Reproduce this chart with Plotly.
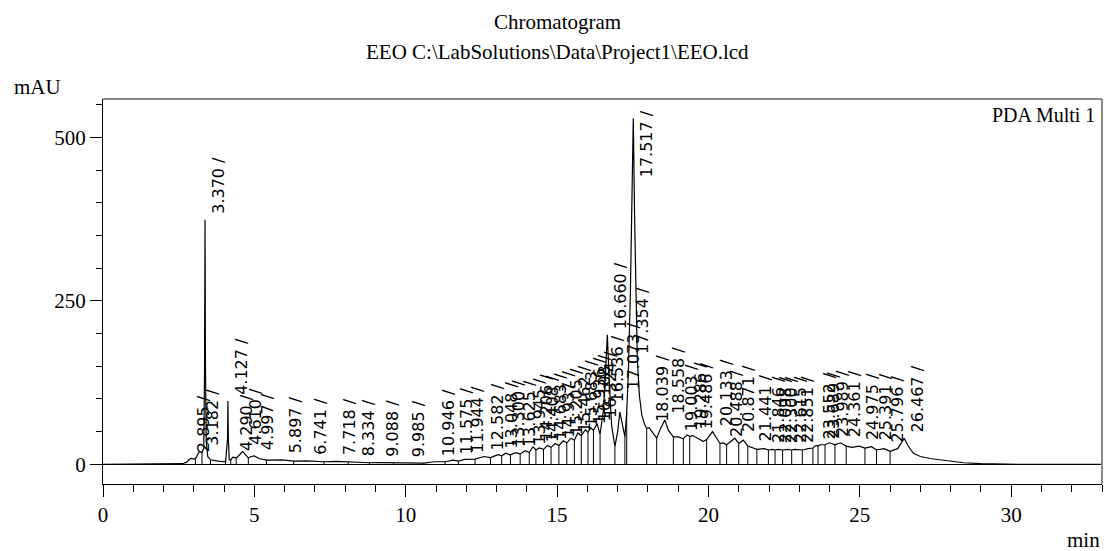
import plotly.graph_objects as go

# ---------------- data ----------------
time_min = [
    0.0, 2.50, 2.62, 2.75, 2.895, 3.05, 3.182, 3.27, 3.33, 3.355, 3.370, 3.385, 3.41, 3.46, 3.55,
    3.80, 4.05, 4.115, 4.127, 4.14, 4.17, 4.22, 4.29, 4.40, 4.50, 4.61, 4.72, 4.80, 4.90, 4.997,
    5.15, 5.40, 5.897, 6.30, 6.741, 7.30, 7.718, 8.10, 8.334, 8.80, 9.088, 9.60, 9.985, 10.60,
    10.946, 11.30, 11.575, 11.74, 11.944, 12.29, 12.582, 12.80, 13.048, 13.17, 13.300, 13.46,
    13.625, 13.78, 13.945, 14.08, 14.206, 14.30, 14.408, 14.55, 14.683, 14.80, 14.937, 15.06,
    15.205, 15.32, 15.462, 15.57, 15.683, 15.80, 15.936, 16.02, 16.108, 16.20, 16.324, 16.42,
    16.536, 16.60, 16.660, 16.72, 16.80, 16.91, 17.00, 17.073, 17.17, 17.24, 17.30, 17.354,
    17.42, 17.48, 17.517, 17.56, 17.60, 17.65, 17.72, 17.80, 17.90, 17.96, 18.039, 18.15, 18.29,
    18.42, 18.558, 18.68, 18.84, 19.003, 19.17, 19.286, 19.38, 19.486, 19.65, 19.83, 19.94,
    20.133, 20.38, 20.488, 20.60, 20.871, 21.00, 21.15, 21.30, 21.441, 21.60, 21.846, 21.98,
    22.098, 22.20, 22.300, 22.45, 22.615, 22.75, 22.851, 23.10, 23.30, 23.45, 23.552, 23.62,
    23.689, 23.85, 23.989, 24.18, 24.361, 24.55, 24.75, 24.975, 25.17, 25.391, 25.55, 25.796,
    26.00, 26.25, 26.467, 26.60, 26.77, 27.00, 27.32, 27.87, 28.42, 29.00, 29.50, 30.50, 33.0,
]
signal_mau = [
    0, 0, 1, 3, 9, 8, 20, 18, 25, 150, 374, 150, 35, 12, 7,
    5, 4, 40, 97, 40, 7, 7, 11, 10, 14, 20, 14, 10, 12, 13,
    9, 6.5, 7, 5, 5.5, 4, 4.5, 3.5, 3.8, 2.5, 2.7, 1.8, 2.2, 1.8,
    4, 4, 6.5, 5, 7.5, 8, 12, 10.5, 15, 13, 17, 14.5,
    18, 16, 21, 18, 27, 22, 25, 23, 29, 26, 32, 29,
    36, 33, 40, 37, 48, 44, 53, 49, 56, 52, 62, 46,
    85, 140, 198, 130, 60, 27, 50, 80, 60, 42, 80, 140,
    260, 450, 529, 380, 250, 160, 105, 75, 60, 55, 56, 48, 40,
    55, 68, 52, 42, 42, 39, 45, 43, 44, 40, 35, 38,
    50, 32, 33, 30, 40, 32, 37, 28, 26, 23, 24, 22,
    23, 22, 23, 22, 23, 22, 23, 22, 24, 25, 29, 28,
    30, 30, 33, 30, 33, 28, 26, 28, 25, 27, 22, 24,
    20, 24, 40, 28, 17, 12, 9, 5.5, 2.5, 1.0, 0.5, 0, 0,
]

peak_labels = [
    "2.895", "3.182", "3.370", "4.127", "4.290", "4.610", "4.997", "5.897", "6.741", "7.718",
    "8.334", "9.088", "9.985", "10.946", "11.575", "11.944", "12.582", "13.048", "13.300",
    "13.625", "13.945", "14.206", "14.408", "14.683", "14.937", "15.205", "15.462", "15.683",
    "15.936", "16.108", "16.324", "16.536", "16.660", "17.073", "17.354", "17.517", "18.039",
    "18.558", "19.003", "19.286", "19.486", "20.133", "20.488", "20.871", "21.441", "21.846",
    "22.098", "22.300", "22.615", "22.851", "23.552", "23.689", "23.989", "24.361", "24.975",
    "25.391", "25.796", "26.467",
]
peak_heights = [
    9, 20, 374, 97, 11, 20, 13, 7, 5.5, 4.5,
    3.8, 2.7, 2.2, 4, 6.5, 7.5, 12, 15, 17,
    18, 21, 27, 25, 29, 32, 36, 40, 48,
    53, 56, 62, 85, 198, 105, 160, 529, 56,
    68, 42, 45, 44, 50, 33, 40, 26, 24,
    23, 23, 23, 23, 29, 30, 33, 33, 28,
    27, 24, 40,
]

drop_times = [
    3.05, 3.27, 3.55, 4.05, 4.22, 4.40, 4.80, 5.40, 6.30, 7.30, 8.10, 8.80, 9.60, 10.60,
    11.30, 11.74, 12.29, 12.80, 13.17, 13.46, 13.78, 14.08, 14.30, 14.55, 14.80, 15.06,
    15.32, 15.57, 15.80, 16.02, 16.20, 16.42, 16.91, 17.24, 17.30, 17.96, 18.29, 18.84,
    19.17, 19.38, 19.94, 20.38, 20.60, 21.00, 21.30, 21.60, 21.98, 22.20, 22.45, 22.75,
    23.10, 23.45, 23.62, 23.85, 24.18, 24.55, 25.17, 25.55, 26.00,
]
drop_heights = [
    8, 18, 7, 4, 7, 10, 10, 6.5, 5, 4, 3.5, 2.5, 1.8, 1.8,
    4, 5, 8, 10.5, 13, 14.5, 16, 18, 22, 23, 26, 29,
    33, 37, 44, 49, 52, 46, 27, 42, 80, 55, 40, 42,
    39, 43, 38, 32, 30, 32, 28, 23, 22, 22, 22, 22,
    22, 25, 28, 30, 30, 28, 25, 22, 20,
]

x_major_ticks = [0, 5, 10, 15, 20, 25, 30]
y_major_ticks = [0, 250, 500]

title_line1 = "Chromatogram"
title_line2 = "EEO C:\\LabSolutions\\Data\\Project1\\EEO.lcd"
channel_name = "PDA Multi 1"

# ---------------- figure ----------------
SERIF = "Liberation Serif, Times New Roman, serif"
SANS = "DejaVu Sans, Verdana, sans-serif"

fig = go.Figure()

# integration drop lines
dx, dy = [], []
for t, h in zip(drop_times, drop_heights):
    dx += [t, t, None]
    dy += [0, h, None]
fig.add_trace(go.Scatter(x=dx, y=dy, mode="lines",
                         line=dict(color="black", width=1), hoverinfo="skip"))

# chromatogram trace
fig.add_trace(go.Scatter(x=time_min, y=signal_mau, mode="lines",
                         line=dict(color="black", width=1.2), hoverinfo="skip"))

Y_MIN, Y_MAX = -30, 558.6
X_MIN, X_MAX = 0, 33.0

annotations = []
for lab, h in zip(peak_labels, peak_heights):
    t = float(lab)
    if h > 450:
        annotations.append(dict(x=t, y=Y_MAX, xref="x", yref="y", text=lab + " /",
                                textangle=-90, showarrow=False, xanchor="left", yanchor="top",
                                xshift=2, yshift=-9, font=dict(family=SANS, size=16, color="black")))
    else:
        annotations.append(dict(x=t, y=h, xref="x", yref="y", text=lab + " /",
                                textangle=-90, showarrow=False, xanchor="left", yanchor="bottom",
                                xshift=2, yshift=4, font=dict(family=SANS, size=16, color="black")))

serif_font = dict(family=SERIF, size=21, color="black")
annotations += [
    dict(x=0.455, y=1.20, xref="paper", yref="paper", text=title_line1, showarrow=False,
         xanchor="center", yanchor="middle", font=serif_font),
    dict(x=0.455, y=1.122, xref="paper", yref="paper", text=title_line2, showarrow=False,
         xanchor="center", yanchor="middle", font=serif_font),
    dict(x=-0.0912, y=1.031, xref="paper", yref="paper", text="mAU", showarrow=False,
         xanchor="left", yanchor="middle", font=serif_font),
    dict(x=1.0, y=-0.145, xref="paper", yref="paper", text="min", showarrow=False,
         xanchor="right", yanchor="middle", font=serif_font),
    dict(x=0.995, y=0.958, xref="paper", yref="paper", text=channel_name, showarrow=False,
         xanchor="right", yanchor="middle", font=dict(family=SERIF, size=20, color="black")),
]

shapes = [
    dict(type="line", xref="paper", yref="paper", x0=0, x1=1, y0=1, y1=1,
         line=dict(color="#8a8a8a", width=2)),
    dict(type="line", xref="paper", yref="paper", x0=1, x1=1, y0=0, y1=1,
         line=dict(color="#8a8a8a", width=2)),
]

fig.update_layout(
    width=1106, height=551,
    margin=dict(l=103, r=4, t=99, b=67, autoexpand=False),
    paper_bgcolor="white", plot_bgcolor="white",
    showlegend=False,
    annotations=annotations,
    shapes=shapes,
    xaxis=dict(range=[X_MIN, X_MAX], tickvals=x_major_ticks, ticks="outside", ticklen=12,
               tickwidth=1, tickcolor="black", showline=True, linecolor="black", linewidth=1,
               showgrid=False, zeroline=False, tickfont=serif_font,
               minor=dict(dtick=1, ticks="outside", ticklen=7, tickcolor="black", showgrid=False)),
    yaxis=dict(range=[Y_MIN, Y_MAX], tickvals=y_major_ticks, ticks="outside", ticklen=12,
               tickwidth=1, tickcolor="black", showline=True, linecolor="black", linewidth=1,
               showgrid=False, zeroline=True, zerolinecolor="black", zerolinewidth=1,
               tickfont=serif_font,
               minor=dict(tickvals=[50, 100, 150, 200, 300, 350, 400, 450, 550],
                          ticks="outside", ticklen=6, tickcolor="black", showgrid=False)),
)

fig.write_html("out.html", config={"displayModeBar": False},
               post_script="document.body.style.margin='0px';")
